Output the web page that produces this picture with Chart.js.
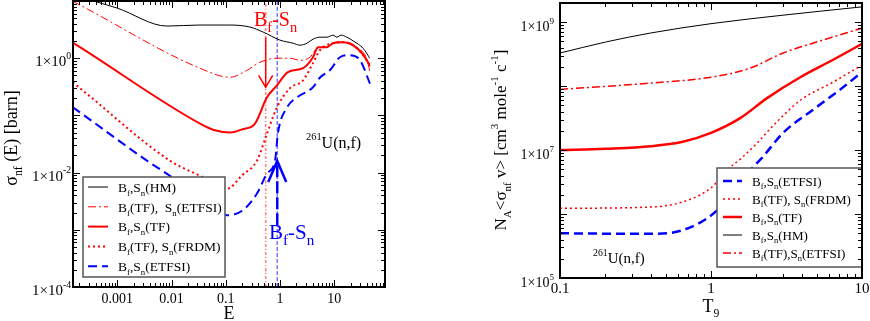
<!DOCTYPE html>
<html>
<head>
<meta charset="utf-8">
<script src="https://cdn.jsdelivr.net/npm/chart.js@4.4.1/dist/chart.umd.min.js"></script>
<style>
body { margin: 0; background: #fff; }
#wrap { position: relative; width: 870px; height: 321px; }
.panel { position: absolute; top: 0; width: 435px; height: 321px; }
</style>
</head>
<body>
<div id="wrap">
  <div class="panel" style="left:0"><canvas id="left" width="435" height="321"></canvas></div>
  <div class="panel" style="left:435px"><canvas id="right" width="435" height="321"></canvas></div>
</div>
<script>
// ---- left panel: sigma_nf(E) [barn] vs E ----
const eHM = [1.5e-4, 4.2e-4, 1e-3, 8.2e-3, 0.0334, 0.12, 0.28, 0.49, 1.0, 1.74, 2.34, 3.15, 4.06, 5.47, 7.37, 9.5, 11.3, 13.3, 17.2, 24.2, 32.6, 41.9, 45];
const sHM = [13, 9.6, 7.5, 3.65, 3.8, 3.8, 3.5, 2.86, 2.07, 1.83, 1.69, 1.83, 2.15, 2.33, 2.33, 2.53, 2.33, 2.53, 2.33, 1.91, 1.56, 1.13, 1.0];

const eTfEt = [1.5e-4, 2.04e-4, 0.0334, 0.12, 0.25, 0.427, 0.88, 1.53, 2.34, 3.58, 4.8, 7.37, 9.5, 14.5, 26.3, 41.9, 45];
const sTfEt = [9.9, 8.5, 0.668, 0.464, 0.62, 0.85, 1.0, 1.0, 0.92, 1.04, 1.49, 1.6, 1.85, 1.95, 1.55, 0.85, 0.6];

const eTF = [1.5e-4, 2.04e-4, 0.0334, 0.063, 0.12, 0.2, 0.346, 0.575, 0.88, 1.4, 2.66, 4.06, 5.0, 7.37, 9.5, 14.5, 26.3, 41.9, 45];
const sTF = [1.87, 1.56, 0.072, 0.055, 0.05, 0.057, 0.072, 0.207, 0.336, 0.57, 0.67, 1.04, 1.56, 1.56, 1.83, 1.9, 1.5, 0.85, 0.72];

const eFRDM = [1.5e-4, 2.04e-4, 0.0093, 0.0334, 0.105, 0.2, 0.376, 0.575, 0.88, 1.53, 2.66, 4.06, 5.47, 9.5, 14.5, 26.3, 41.9, 45];
const sFRDM = [0.38, 0.30, 0.0162, 0.0088, 0.0052, 0.009, 0.0162, 0.048, 0.138, 0.30, 0.41, 0.82, 1.38, 1.83, 1.9, 1.5, 0.85, 0.75];

const eETFSI = [1.5e-4, 2.04e-4, 0.0035, 0.0093, 0.03, 0.105, 0.207, 0.376, 0.575, 0.81, 0.92, 1.35, 2.06, 4.06, 5.47, 8.4, 12.8, 19.5, 30, 45.7];
const sETFSI = [0.139, 0.113, 0.0162, 0.0088, 0.004, 0.0018, 0.0022, 0.0043, 0.0096, 0.0162, 0.05, 0.138, 0.207, 0.31, 0.46, 0.62, 1.04, 1.13, 0.92, 0.36];

// B_f - S_n energies (red: TF, blue: ETFSI) and arrow ends in barn
const gapE = [0.545, 0.89];
const redArrow = [2.3, 0.31];
const blueArrow = [0.0012, 0.016];

const leftXTicks = [0.001, 0.01, 0.1, 1, 10];
const leftXLabels = ['0.001', '0.01', '0.1', '1', '10'];
const leftYTicks = [1, 1e-2, 1e-4];
const leftYExp = ['0', '-2', '-4'];

// ---- right panel: N_A<sigma v> vs T9 ----
const tHM = [0.1, 0.2, 0.4, 1, 3, 10];
const rHM = [3.3e8, 4.9e8, 6.8e8, 9.5e8, 1.29e9, 1.74e9];

const tTfEt = [0.1, 0.4, 1, 1.8, 3, 5, 10];
const rTfEt = [8.9e7, 1.12e8, 1.38e8, 1.9e8, 3.3e8, 4.9e8, 8.1e8];

const tTF = [0.1, 0.2, 0.4, 0.65, 1, 1.56, 2.35, 3.9, 6.4, 10];
const rTF = [1.0e7, 1.05e7, 1.15e7, 1.35e7, 1.86e7, 3.16e7, 6.5e7, 1.38e8, 2.57e8, 4.6e8];

const tFRDM = [0.1, 0.4, 0.65, 1, 1.28, 1.6, 2.0, 2.5, 3.9, 6.4, 10];
const rFRDM = [1.23e6, 1.29e6, 1.55e6, 2.57e6, 4.9e6, 7.6e6, 1.26e7, 2.24e7, 6.0e7, 1.15e8, 2.14e8];

const tETFSI = [0.1, 0.4, 0.65, 1, 1.4, 1.9, 2.2, 3, 5, 7.1, 10];
const rETFSI = [5.0e5, 4.9e5, 5.6e5, 9.5e5, 2.14e6, 5.4e6, 7.8e6, 1.86e7, 4.7e7, 8.7e7, 1.66e8];

const rightXTicks = [0.1, 1, 10];
const rightXLabels = ['0.1', '1', '10'];
const rightYTicks = [1e5, 1e7, 1e9];
const rightYExp = ['5', '7', '9'];

const FONT = '"Liberation Serif", "Times New Roman", serif';
const pts = (xs, ys) => xs.map((x, i) => ({ x: x, y: ys[i] }));

// rich text: runs of [text, 'n' | 'sub' | 'sup']
function richWidth(ctx, runs, fs, ss) {
    let w = 0;
    runs.forEach(([t, k]) => {
        ctx.font = (k === 'n' ? fs : fs * ss) + 'px ' + FONT;
        w += ctx.measureText(t).width;
    });
    return w;
}
function drawRich(ctx, runs, x, y, fs, align, ss = 0.65) {
    const w = richWidth(ctx, runs, fs, ss);
    let cx = align === 'center' ? x - w / 2 : align === 'right' ? x - w : x;
    ctx.textAlign = 'left';
    ctx.textBaseline = 'alphabetic';
    runs.forEach(([t, k]) => {
        ctx.font = (k === 'n' ? fs : fs * ss) + 'px ' + FONT;
        const dy = k === 'sub' ? fs * 0.3 : k === 'sup' ? -fs * 0.5 : 0;
        ctx.fillText(t, cx, y + dy);
        cx += ctx.measureText(t).width;
    });
}

function logTicks(min, max) {
    const out = [];
    for (let d = Math.floor(Math.log10(min)); d <= Math.ceil(Math.log10(max)); d++) {
        for (let m = 1; m < 10; m++) {
            const v = m * Math.pow(10, d);
            if (v >= min * 0.999 && v <= max * 1.001) out.push([v, m === 1]);
        }
    }
    return out;
}

function drawFrame(chart) {
    const { ctx, chartArea: a, scales: { x, y } } = chart;
    ctx.save();
    ctx.strokeStyle = '#000';
    ctx.lineWidth = 1;
    ctx.beginPath();
    logTicks(x.min, x.max).forEach(([v, major]) => {
        const p = Math.round(x.getPixelForValue(v)) + 0.5;
        const L = major ? 7 : 4;
        ctx.moveTo(p, a.bottom); ctx.lineTo(p, a.bottom - L);
        ctx.moveTo(p, a.top); ctx.lineTo(p, a.top + L);
    });
    logTicks(y.min, y.max).forEach(([v, major]) => {
        const p = Math.round(y.getPixelForValue(v)) + 0.5;
        const L = major ? 7 : 4;
        ctx.moveTo(a.left, p); ctx.lineTo(a.left + L, p);
        ctx.moveTo(a.right, p); ctx.lineTo(a.right - L, p);
    });
    ctx.stroke();
    ctx.lineWidth = 2;
    ctx.strokeRect(a.left, a.top, a.right - a.left, a.bottom - a.top);
    ctx.restore();
}

function drawTickLabels(chart, o) {
    const { ctx, chartArea: a, scales: { x, y } } = chart;
    ctx.save();
    ctx.fillStyle = '#000';
    o.xTicks.forEach((v, i) => {
        drawRich(ctx, [[o.xLabels[i], 'n']], x.getPixelForValue(v), a.bottom + o.xOff, o.xFs, 'center');
    });
    o.yTicks.forEach((v, i) => {
        drawRich(ctx, [['1\u00d710', 'n'], [o.yExp[i], 'sup']], a.left - o.yGap, y.getPixelForValue(v) + o.yOff, o.yFs, 'right');
    });
    ctx.restore();
}

function drawLegend(chart, L) {
    const { ctx } = chart;
    ctx.save();
    ctx.fillStyle = '#fff';
    ctx.fillRect(L.x0, L.y0, L.x1 - L.x0, L.y1 - L.y0);
    ctx.strokeStyle = '#555';
    ctx.lineWidth = 1.5;
    ctx.strokeRect(L.x0, L.y0, L.x1 - L.x0, L.y1 - L.y0);
    L.items.forEach((it, i) => {
        const ds = chart.data.datasets[it.ds];
        const yy = L.firstY + i * L.step;
        ctx.strokeStyle = ds.borderColor;
        ctx.lineWidth = ds.borderWidth;
        ctx.setLineDash(ds.borderDash || []);
        ctx.beginPath();
        ctx.moveTo(L.lx0, yy); ctx.lineTo(L.lx1, yy);
        ctx.stroke();
        ctx.setLineDash([]);
        ctx.fillStyle = '#000';
        drawRich(ctx, it.runs, L.tx, yy + L.fs * 0.35, L.fs, 'left');
    });
    ctx.restore();
}

function arrow(ctx, px, yTail, yTip, half, len, color, width, dash) {
    ctx.save();
    ctx.strokeStyle = color;
    ctx.lineWidth = width;
    ctx.setLineDash(dash);
    ctx.beginPath();
    ctx.moveTo(px, yTail); ctx.lineTo(px, yTip);
    ctx.stroke();
    ctx.setLineDash([]);
    const s = Math.sign(yTail - yTip);
    ctx.beginPath();
    ctx.moveTo(px - half, yTip + s * len); ctx.lineTo(px, yTip); ctx.lineTo(px + half, yTip + s * len);
    ctx.stroke();
    ctx.restore();
}

const line = (data, color, width, dash) => ({
    data: data, borderColor: color, borderWidth: width, borderDash: dash,
    pointRadius: 0, fill: false, cubicInterpolationMode: 'monotone'
});

const BF = (a, b) => [['B', 'n'], ['f', 'sub'], [a, 'n'], ['S', 'n'], ['n', 'sub'], [b, 'n']];
const GAP = [['B', 'n'], ['f', 'sub'], ['-S', 'n'], ['n', 'sub']];

// ---------------- left chart ----------------
const leftDecor = {
    id: 'leftDecor',
    afterDraw(chart) {
        const { ctx, scales: { x, y } } = chart;
        drawLegend(chart, {
            x0: 83, y0: 177, x1: 225, y1: 277, lx0: 88, lx1: 108, tx: 118,
            firstY: 187, step: 19.8, fs: 13.5,
            items: [
                { ds: 0, runs: BF(',', '(HM)') },
                { ds: 1, runs: [['B', 'n'], ['f', 'sub'], ['(TF),  ', 'n'], ['S', 'n'], ['n', 'sub'], ['(ETFSI)', 'n']] },
                { ds: 2, runs: BF(',', '(TF)') },
                { ds: 3, runs: [['B', 'n'], ['f', 'sub'], ['(TF), ', 'n'], ['S', 'n'], ['n', 'sub'], ['(FRDM)', 'n']] },
                { ds: 4, runs: BF(',', '(ETFSI)') }
            ]
        });
        drawFrame(chart);
        drawTickLabels(chart, {
            xTicks: leftXTicks, xLabels: leftXLabels, xOff: 16, xFs: 14,
            yTicks: leftYTicks, yExp: leftYExp, yGap: 2, yOff: 8, yFs: 15
        });
        // arrows at B_f - S_n
        arrow(ctx, x.getPixelForValue(gapE[0]), y.getPixelForValue(redArrow[0]), y.getPixelForValue(redArrow[1]), 7, 12, '#ff0000', 1.5, []);
        arrow(ctx, x.getPixelForValue(gapE[1]), y.getPixelForValue(blueArrow[0]), y.getPixelForValue(blueArrow[1]), 9, 21, '#0000ff', 2.5, [12, 4]);
        ctx.save();
        ctx.fillStyle = '#ff0000';
        drawRich(ctx, GAP, 254, 26, 20, 'left', 0.72);
        ctx.fillStyle = '#0000ff';
        drawRich(ctx, GAP, 269, 239, 21, 'left', 0.72);
        ctx.fillStyle = '#000';
        drawRich(ctx, [['261', 'sup'], ['U(n,f)', 'n']], 306, 148, 16, 'left');
        drawRich(ctx, [['E', 'n']], 229, 319, 18, 'center');
        ctx.translate(17, 138);
        ctx.rotate(-Math.PI / 2);
        drawRich(ctx, [['\u03c3', 'n'], ['nf', 'sub'], [' (E) [barn]', 'n']], 0, 0, 18, 'center');
        ctx.restore();
    }
};

new Chart(document.getElementById('left'), {
    type: 'line',
    data: {
        datasets: [
            line(pts(eHM, sHM), '#000000', 1, []),
            line(pts(eTfEt, sTfEt), '#ff0000', 1, [8, 3, 2, 3]),
            line(pts(eTF, sTF), '#ff0000', 2, []),
            line(pts(eFRDM, sFRDM), '#ff0000', 2, [2, 3]),
            line(pts(eETFSI, sETFSI), '#0000ff', 2, [9, 5]),
            line([{ x: gapE[0], y: 1e-4 }, { x: gapE[0], y: 10 }], 'rgba(255,80,80,0.75)', 1.5, [3, 2, 1, 2]),
            line([{ x: gapE[1], y: 1e-4 }, { x: gapE[1], y: 10 }], 'rgba(60,60,255,0.7)', 1.5, [4, 2])
        ]
    },
    options: {
        responsive: false,
        animation: false,
        layout: { padding: { left: 73, right: 50, top: 1, bottom: 34 } },
        plugins: { legend: { display: false }, tooltip: { enabled: false } },
        scales: {
            x: { type: 'logarithmic', min: 1.52e-4, max: 86.5, display: false },
            y: { type: 'logarithmic', min: 1e-4, max: 10, display: false }
        }
    },
    plugins: [leftDecor]
});

// ---------------- right chart ----------------
const rightDecor = {
    id: 'rightDecor',
    afterDraw(chart) {
        const { ctx } = chart;
        drawLegend(chart, {
            x0: 282, y0: 168, x1: 427, y1: 267, lx0: 288, lx1: 307, tx: 317,
            firstY: 181, step: 18, fs: 13,
            items: [
                { ds: 4, runs: BF(',', '(ETFSI)') },
                { ds: 3, runs: [['B', 'n'], ['f', 'sub'], ['(TF), ', 'n'], ['S', 'n'], ['n', 'sub'], ['(FRDM)', 'n']] },
                { ds: 2, runs: BF(',', '(TF)') },
                { ds: 0, runs: BF(',', '(HM)') },
                { ds: 1, runs: [['B', 'n'], ['f', 'sub'], ['(TF),', 'n'], ['S', 'n'], ['n', 'sub'], ['(ETFSI)', 'n']] }
            ]
        });
        drawFrame(chart);
        drawTickLabels(chart, {
            xTicks: rightXTicks, xLabels: rightXLabels, xOff: 15, xFs: 15,
            yTicks: rightYTicks, yExp: rightYExp, yGap: 6, yOff: 9, yFs: 14
        });
        ctx.save();
        ctx.fillStyle = '#000';
        drawRich(ctx, [['261', 'sup'], ['U(n,f)', 'n']], 158, 263, 15, 'left');
        drawRich(ctx, [['T', 'n'], ['9', 'sub']], 276, 312, 18, 'center');
        ctx.translate(71, 140);
        ctx.rotate(-Math.PI / 2);
        drawRich(ctx, [['N', 'n'], ['A', 'sub'], ['<\u03c3', 'n'], ['nf', 'sub'], [' v> [cm', 'n'], ['3', 'sup'],
            [' mole', 'n'], ['-1', 'sup'], [' c', 'n'], ['-1', 'sup'], [']', 'n']], 0, 0, 17, 'center');
        ctx.restore();
    }
};

new Chart(document.getElementById('right'), {
    type: 'line',
    data: {
        datasets: [
            line(pts(tHM, rHM), '#000000', 1, []),
            line(pts(tTfEt, rTfEt), '#ff0000', 1.5, [8, 3, 2, 3]),
            line(pts(tTF, rTF), '#ff0000', 2.5, []),
            line(pts(tFRDM, rFRDM), '#ff0000', 1.5, [2, 3]),
            line(pts(tETFSI, rETFSI), '#0000ff', 2.5, [9, 5])
        ]
    },
    options: {
        responsive: false,
        animation: false,
        layout: { padding: { left: 125, right: 8, top: 3, bottom: 43 } },
        plugins: { legend: { display: false }, tooltip: { enabled: false } },
        scales: {
            x: { type: 'logarithmic', min: 0.1, max: 10, display: false },
            y: { type: 'logarithmic', min: 1e5, max: 2e9, display: false }
        }
    },
    plugins: [rightDecor]
});
</script>
</body>
</html>
